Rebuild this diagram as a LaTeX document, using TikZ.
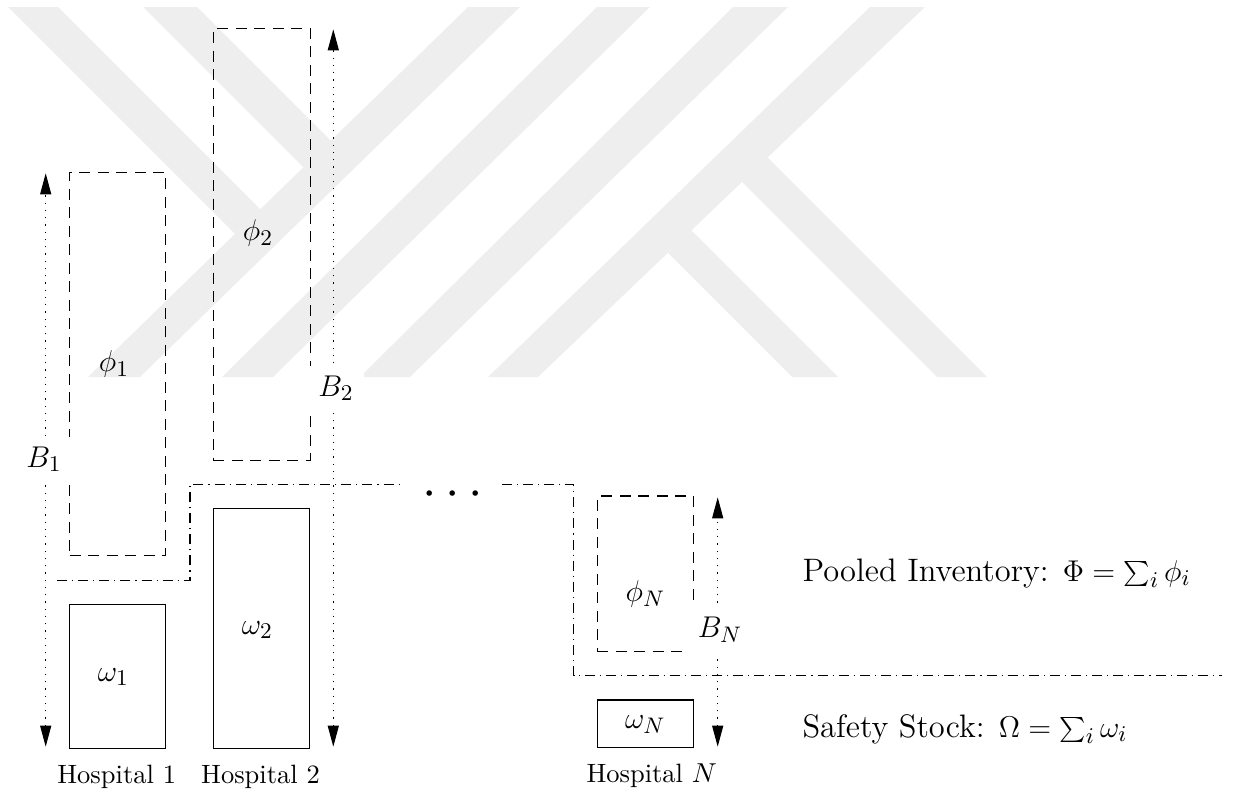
\documentclass[tikz,border=0pt]{standalone}
\usetikzlibrary{arrows.meta}
\begin{document}
\begin{tikzpicture}[x=0.4pt,y=-0.4pt,line width=0.45pt,
  wm/.style={fill=black!6.5,draw=none},
  box/.style={draw,inner sep=0pt,outer sep=0pt},
  phibox/.style={box,dash pattern=on 4.4pt off 3pt},
  pool/.style={dash pattern=on 4pt off 2pt on 0.45pt off 2pt},
  barr/.style={dash pattern=on 0.5pt off 2.4pt,
    {Triangle[length=8.4pt,width=4.4pt]}-{Triangle[length=8.4pt,width=4.4pt]}},
  lbl/.style={font=\fontsize{13}{15.6}\selectfont,inner sep=1pt},
  blbl/.style={lbl,fill=white,inner sep=4pt},
  hosp/.style={font=\fontsize{10.6}{12.7}\selectfont,anchor=base,inner sep=0pt}
]
\useasboundingbox (0,0) rectangle (1241,793);
% watermark
\fill[wm] (8,7) -- (58,7) -- (260.3,209.3) -- (234.9,233.9) -- cycle;
\fill[wm] (143,7) -- (197,7) -- (330.7,140.7) -- (303.3,167.3) -- cycle;
\fill[wm] (88,377) -- (140,377) -- (520,7) -- (468,7) -- cycle;
\fill[wm] (222,377) -- (273,377) -- (650,7) -- (597,7) -- cycle;
\fill[wm] (360,377) -- (410,377) -- (788,7) -- (733,7) -- cycle;
\fill[wm] (488,377) -- (538,377) -- (925,7) -- (870,7) -- cycle;
\fill[wm] (792,377) -- (838,377) -- (691,230) -- (668,253) -- cycle;
\fill[wm] (937,377) -- (987,377) -- (767.5,157.5) -- (742,182) -- cycle;

% boxes
\node[phibox,minimum width=38.4pt,minimum height=153.4pt] (p1) at (117.7,364) {};
\node[phibox,minimum width=38.7pt,minimum height=172.7pt] (p2) at (261.7,244.2) {};
\node[phibox,minimum width=38.4pt,minimum height=62.3pt] (pN) at (645.3,573.9) {};
\node[box,minimum width=38.4pt,minimum height=57.6pt] (w1) at (117.7,676.3) {};
\node[box,minimum width=38.4pt,minimum height=96pt] (w2) at (261.3,628.3) {};
\node[box,minimum width=38.4pt,minimum height=19.1pt] (wN) at (645.3,723.9) {};

\node[lbl] (lp1) at (114,364) {$\phi_1$};
\node[lbl] (lp2) at (258,233) {$\phi_2$};
\node[lbl] (lpN) at (645.5,594) {$\phi_N$};
\node[lbl] (lw1) at (113.5,677) {$\omega_1$};
\node[lbl] (lw2) at (257.5,630) {$\omega_2$};
\node[lbl] (lwN) at (645.3,725) {$\omega_N$};

% pooled boundary
\draw[pool] (57,580.3) -- (190,580.3) -- (190,484.3) -- (403,484.3);
\draw[pool] (502,484.3) -- (573.5,484.3) -- (573.5,675.8) -- (1222,675.8);
\node[anchor=base,inner sep=0pt] (dots) at (453,506) {\fontsize{20.74}{25}\selectfont$\cdots$};

% B arrows
\coordinate (b1t) at (45.7,173.3);
\coordinate (b1b) at (45.7,746.7);
\coordinate (b2t) at (333.3,29.3);
\coordinate (b2b) at (333.3,746.7);
\coordinate (bNt) at (717.7,497.3);
\coordinate (bNb) at (717.7,746.7);
\draw[barr] (b1b) -- (b1t);
\draw[barr] (b2b) -- (b2t);
\draw[barr] (bNb) -- (bNt);
\node[blbl] (lb1) at (44,459) {$B_1$};
\node[blbl] (lb2) at (336,388) {$B_2$};
\node[blbl] (lbN) at (720,630) {$B_N$};

% hospital labels
\node[hosp] (h1) at (116.7,783) {Hospital 1};
\node[hosp] (h2) at (260.5,783) {Hospital 2};
\node[hosp] (hN) at (651.7,782) {Hospital $N$};

% legend
\node[lbl,anchor=base west,inner sep=0pt] (pool) at (802,581) {Pooled Inventory: $\Phi=\sum_i\phi_i$};
\node[lbl,anchor=base west,inner sep=0pt] (safe) at (802,737) {Safety Stock: $\Omega=\sum_i\omega_i$};
\end{tikzpicture}
\end{document}
